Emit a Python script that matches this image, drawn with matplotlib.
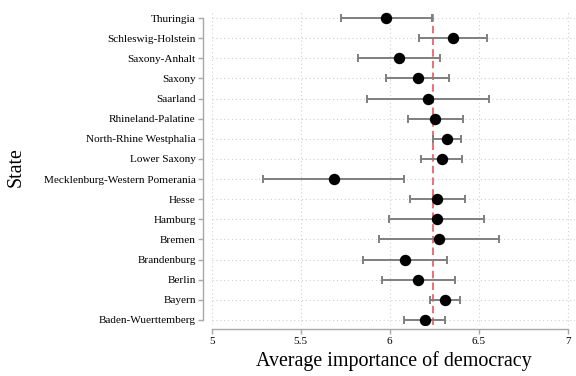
import matplotlib
matplotlib.use("Agg")
import matplotlib.pyplot as plt

states = ["Baden-Wuerttemberg", "Bayern", "Berlin", "Brandenburg", "Bremen",
          "Hamburg", "Hesse", "Mecklenburg-Western Pomerania", "Lower Saxony",
          "North-Rhine Westphalia", "Rhineland-Palatine", "Saarland", "Saxony",
          "Saxony-Anhalt", "Schleswig-Holstein", "Thuringia"]
means = [6.198, 6.312, 6.159, 6.088, 6.275, 6.264, 6.266, 5.684, 6.295,
         6.322, 6.256, 6.215, 6.159, 6.052, 6.355, 5.981]
ci_low = [6.082, 6.228, 5.955, 5.851, 5.940, 5.996, 6.116, 5.286, 6.178,
          6.245, 6.101, 5.873, 5.981, 5.819, 6.163, 5.727]
ci_high = [6.310, 6.397, 6.365, 6.322, 6.611, 6.531, 6.421, 6.082, 6.408,
           6.400, 6.411, 6.557, 6.333, 6.284, 6.544, 6.237]
overall_mean = 6.24
xticks = [5, 5.5, 6, 6.5, 7]
xticklabels = ["5", "5.5", "6", "6.5", "7"]

plt.rcParams["font.family"] = ["Liberation Serif", "DejaVu Serif"]

fig = plt.figure(figsize=(5.76, 3.76), dpi=100)
ax = fig.add_axes([211.7 / 576, 51 / 376, (575 - 211.7) / 576, (325 - 10) / 376])

ypos = list(range(len(states)))
err = [[m - lo for m, lo in zip(means, ci_low)],
       [hi - m for m, hi in zip(means, ci_high)]]

grid_kw = dict(color="#d0d0d0", lw=0.8, ls=(0, (1, 2.5)), zorder=0)
for x in xticks:
    ax.axvline(x, **grid_kw)
for y in ypos:
    ax.axhline(y, **grid_kw)

ax.axvline(overall_mean, color="#e8585c", lw=1.2, ls=(0, (4.5, 2.5)), zorder=1)

ax.errorbar(means, ypos, xerr=err, fmt="none", ecolor="#7f7f7f",
            elinewidth=1.4, capsize=3, capthick=1.4, zorder=2)
ax.plot(means, ypos, "o", color="black", ms=7.2, zorder=3)

ax.set_xlim(5, 7.04)
ax.set_ylim(-0.25, 15.4)
ax.set_xticks(xticks)
ax.set_xticklabels(xticklabels)
ax.set_yticks(ypos)
ax.set_yticklabels(states)

for side in ("top", "right"):
    ax.spines[side].set_visible(False)
spine_color = "#a8a8a8"
ax.spines["left"].set_position(("outward", 6))
ax.spines["left"].set_bounds(0, 15)
ax.spines["bottom"].set_position(("outward", 3))
ax.spines["bottom"].set_bounds(5, 7)
for side in ("left", "bottom"):
    ax.spines[side].set_color(spine_color)
    ax.spines[side].set_linewidth(1.0)

ax.tick_params(axis="both", colors=spine_color, labelcolor="black",
               labelsize=8.1, length=3.5, width=1.0)
ax.tick_params(axis="y", pad=2)
ax.tick_params(axis="x", pad=2)

ax.set_xlabel("Average importance of democracy", fontsize=14.4, labelpad=4)
ax.set_ylabel("State", fontsize=14.4, labelpad=13)

fig.savefig("out.png", dpi=100)
